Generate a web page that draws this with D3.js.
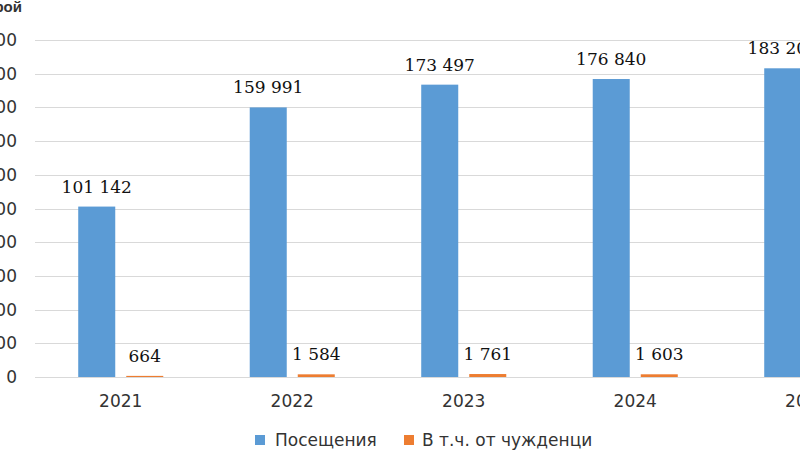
<!DOCTYPE html>
<html><head><meta charset="utf-8">
<script src="https://cdn.jsdelivr.net/npm/d3@7"></script>
<style>html,body{margin:0;padding:0;background:#fff;overflow:hidden}</style>
</head><body>
<svg id="c" width="800" height="450"></svg>
<script>
const categories = ["2021","2022","2023","2024","2025"];
const seriesNames = ["Посещения","В т.ч. от чужденци"];
const visits = [101142,159991,173497,176840,183204];
const foreigners = [664,1584,1761,1603,1650];
const yTicks = [0,20000,40000,60000,80000,100000,120000,140000,160000,180000,200000];
const colors = ["#5B9BD5","#ED7D31"];
const yTitle = "брой";

(function(){
const svg = d3.select("#c");
const plotLeft = 35, step = 171.5, plotTop = 40, plotBottom = 377;
const x0 = d3.scaleBand().domain(categories).range([plotLeft, plotLeft + step*categories.length]).padding(0);
const x1 = d3.scaleBand().domain(seriesNames).range([0, x0.bandwidth()]).paddingInner(11/48).paddingOuter(0.9);
const y = d3.scaleLinear().domain([0,200000]).range([plotBottom, plotTop]);
const fmt = v => d3.format(",")(v).replace(/,/g, " ");

svg.append("g").selectAll("line").data(yTicks).join("line")
  .attr("x1", plotLeft).attr("x2", plotLeft + step*categories.length)
  .attr("y1", d => Math.round(y(d))+0.5).attr("y2", d => Math.round(y(d))+0.5)
  .attr("stroke", "#d9d9d9").attr("stroke-width", 1);

svg.append("g").selectAll("text").data(yTicks).join("text")
  .attr("x", 17).attr("y", d => y(d)+6)
  .attr("text-anchor","end").attr("font-family","DejaVu Sans").attr("font-size",17)
  .attr("fill","#333").text(d => fmt(d));

svg.append("text").attr("x",22).attr("y",12).attr("text-anchor","end")
  .attr("font-family","Liberation Sans").attr("font-weight","bold").attr("font-size",15)
  .attr("fill","#333").text(yTitle);

const data = categories.map((c,i) => ({cat:c, vals:[visits[i], foreigners[i]]}));
const g = svg.append("g").selectAll("g").data(data).join("g")
  .attr("transform", d => `translate(${x0(d.cat)},0)`);
g.selectAll("rect").data(d => d.vals.map((v,j) => ({v, s:seriesNames[j], j}))).join("rect")
  .attr("x", d => x1(d.s)).attr("width", x1.bandwidth())
  .attr("y", d => y(d.v)).attr("height", d => plotBottom - y(d.v))
  .attr("fill", d => colors[d.j]);
g.selectAll("text").data(d => d.vals.map((v,j) => ({v, s:seriesNames[j], j}))).join("text")
  .attr("x", d => x1(d.s) + x1.bandwidth()/2).attr("y", d => y(d.v) - 14)
  .attr("text-anchor","middle").attr("font-family","DejaVu Serif").attr("font-size",17)
  .attr("fill","#111").text(d => fmt(d.v));

svg.append("g").selectAll("text").data(categories).join("text")
  .attr("x", d => x0(d) + x0.bandwidth()/2).attr("y", 407)
  .attr("text-anchor","middle").attr("font-family","DejaVu Sans").attr("font-size",17)
  .attr("fill","#333").text(d => d);

const legX = [255, 404], legTextX = [275, 422];
const lg = svg.append("g").selectAll("g").data(seriesNames).join("g");
lg.append("rect").attr("x",(d,i)=>legX[i]).attr("y",435).attr("width",10).attr("height",10)
  .attr("fill",(d,i)=>colors[i]);
lg.append("text").attr("x",(d,i)=>legTextX[i]).attr("y",446)
  .attr("font-family","DejaVu Sans").attr("font-size",17).attr("fill","#333").text(d=>d);
})();
</script>
</body></html>
